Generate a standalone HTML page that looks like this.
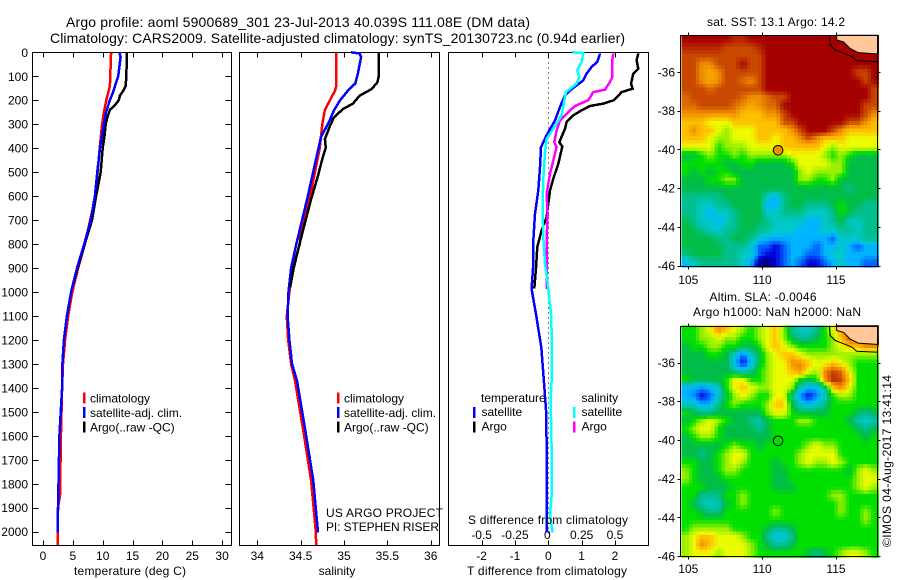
<!DOCTYPE html>
<html lang="en">
<head>
<meta charset="utf-8">
<title>Argo profile 5900689_301</title>
<style>
html,body{margin:0;padding:0;background:#fff;width:900px;height:580px;overflow:hidden}
svg{display:block}
text{font-family:"Liberation Sans",sans-serif;font-size:12px;fill:#000}
.t14{font-size:14px}
</style>
</head>
<body>
<svg id="chart" xmlns="http://www.w3.org/2000/svg" width="900" height="580" viewBox="0 0 900 580">
<rect x="0" y="0" width="900" height="580" fill="#fff"/>
<text class="t14" x="66" y="27" textLength="464" lengthAdjust="spacing">Argo profile: aoml 5900689_301 23-Jul-2013 40.039S 111.08E (DM data)</text>
<text class="t14" x="50" y="43" textLength="575" lengthAdjust="spacing">Climatology: CARS2009. Satellite-adjusted climatology: synTS_20130723.nc (0.94d earlier)</text>
<g id="panels"></g>
<g id="maps"></g>
<text x="130" y="575" text-anchor="middle" textLength="112" lengthAdjust="spacing">temperature (deg C)</text>
<text x="337" y="575" text-anchor="middle">salinity</text>
<text x="547" y="575" text-anchor="middle" textLength="160" lengthAdjust="spacing">T difference from climatology</text>
<text x="548" y="524" text-anchor="middle" textLength="160" lengthAdjust="spacing">S difference from climatology</text>
<text x="326" y="517" textLength="117" lengthAdjust="spacing">US ARGO PROJECT</text>
<text x="326" y="531" textLength="113" lengthAdjust="spacing">PI: STEPHEN RISER</text>
<text x="776" y="26" text-anchor="middle" textLength="138" lengthAdjust="spacing">sat. SST: 13.1 Argo: 14.2</text>
<text x="763" y="301" text-anchor="middle" textLength="107" lengthAdjust="spacing">Altim. SLA: -0.0046</text>
<text x="777" y="316" text-anchor="middle" textLength="168" lengthAdjust="spacing">Argo h1000: NaN h2000: NaN</text>
<text transform="translate(891,547) rotate(-90)" textLength="172" lengthAdjust="spacing">©IMOS 04-Aug-2017 13:41:14</text>
</svg>
<script>
// ---------- profile data ----------
const depthTicks = [0,100,200,300,400,500,600,700,800,900,1000,1100,1200,1300,1400,1500,1600,1700,1800,1900,2000];
const tempTicks = [0,5,10,15,20,25,30];
const salTicks = [34,34.5,35,35.5,36];
const tdiffTicks = [-2,-1,0,1,2];
const sdiffTicks = [-0.5,-0.25,0,0.25,0.5];
const sdiffTickLabels = ['-0.5','-0.25','0','0.25','0.5'];

const tempClimDepth = [0,140,200,250,300,400,600,800,900,1000,1100,1200,1300,1400,1600,1850,1900,2055];
const tempClimValue = [11.4,11.2,10.6,10.2,9.9,9.5,8.8,7.0,5.9,4.9,4.2,3.7,3.35,3.2,3.0,2.85,2.5,2.45];
const tempSatDepth = [0,20,100,130,170,200,250,300,400,500,600,700,800,900,1000,1100,1200,1300,1400,1600,1800,2003];
const tempSatValue = [12.8,13,12.6,12.2,11.7,11.2,10.55,10.2,9.55,9.1,8.7,8.0,6.9,5.7,4.7,4.0,3.5,3.25,3.2,2.75,2.6,2.45];
const tempArgoDepth = [0,100,140,160,180,200,220,240,270,300,350,400,500,600,700,800,900,980];
const tempArgoValue = [14.07,13.95,13.85,13.45,12.9,12.7,12.06,11.2,10.8,10.5,10.3,10,9.66,8.9,8.2,7.0,5.8,4.9];

const salClimDepth = [0,140,160,200,240,300,400,500,600,730,800,900,1000,1100,1200,1300,1370,1578,1787,1980,2055];
const salClimValue = [34.911,34.911,34.896,34.838,34.78,34.75,34.72,34.665,34.61,34.51,34.49,34.41,34.37,34.34,34.355,34.39,34.435,34.53,34.62,34.67,34.68];
const salSatDepth = [0,5,20,88,130,158,200,242,284,354,409,506,604,771,800,900,1000,1100,1200,1300,1370,1578,1787,2003];
const salSatValue = [35.08,35.18,35.197,35.16,35.13,35.05,34.955,34.885,34.835,34.735,34.7,34.64,34.58,34.47,34.45,34.39,34.36,34.35,34.37,34.4,34.458,34.554,34.646,34.7];
const salArgoDepth = [0,100,125,153,181,215,236,271,306,362,397,445,515,613,780,900,980];
const salArgoValue = [35.4,35.4,35.385,35.32,35.18,35.1,34.99,34.885,34.84,34.78,34.79,34.75,34.7,34.62,34.5,34.42,34.38];

const tdiffSatDepth = [5,40,61,89,117,138,159,180,228,284,346,396,479,576,674,785,882,987,1022,1092,1161,1231,1301,1412,1509,1648,1787,1926,2003];
const tdiffSatValue = [1.55,1.47,1.3,1.15,1.05,.85,.65,.5,.35,.2,-.05,-.22,-.25,-.3,-.4,-.45,-.45,-.5,-.46,-.37,-.29,-.21,-.17,-.11,-.06,-.05,-.05,-.05,-.05];
const tdiffArgoDepth = [5,33,68,89,131,152,166,200,214,224,242,263,291,319,375,393,465,527,576,688,743,812,900,985];
const tdiffArgoValue = [2.7,2.65,2.7,2.55,2.48,2.53,2.2,1.97,1.65,1.25,1.0,.75,.55,.5,.33,.42,.3,.15,.05,-.05,-.2,-.33,-.37,-.42];
const sdiffSatDepth = [0,3,40,75,103,131,166,224,263,319,361,417,528,646,771,882,951,1022,1092,1161,1370,1450,1648,1850,1926,2003];
const sdiffSatValue = [.18,.2625,.25,.2175,.2325,.2125,.1325,.1125,.1,.0375,-.0125,-.025,-.0375,-.0425,-.0375,-.025,-.0075,.0075,.02,.025,.025,.0175,.025,.025,.0125,.0325];
const sdiffArgoDepth = [5,33,103,124,156,166,200,224,249,284,326,375,396,451,507,590,674,785,987];
const sdiffArgoValue = [.4875,.48,.48,.4625,.425,.3375,.3,.2,.15,.0875,.0625,.045,.0625,.0375,.0125,-.0125,-.005,-.0125,-.0125];

// ---------- map data (colour level per grid cell, row 0 = north) ----------
const lonTicks = [105,110,115];
const latTicks = [-36,-38,-40,-42,-44,-46];
const sstLevels = [
[13,13,13,13,13,13,12.5,12.5,13,13,13,13,13,13,13,13,13,13,13,13,13,13,13,13],
[12.5,12.5,12.5,12.5,12.5,12,12,12,12,12.5,13,13,13,13,13,13,13,13,13,13,13,13,13,13],
[12,12,12,12,12,12,12,12,12,12,13,13,13,13,13,13,13,13,13,13,13,13,13,13],
[12,12,11,11,12,12,12,13,12,12,13,13,13,13,13,13,13,13,13,13,13,13,13,13],
[12,12,11,10.5,11,12,12,12,12,12,13,13,13,13,13,13,13,13,13,13,13,12,12,13],
[12,12,11,10.5,11,12,12,11.5,11,12,13,13,13,13,13,13,13,13,13,13,13,13,12,13],
[12,12,12,11.5,12,12,12,12,12,12,13,13,13,13,13,13,13,13,13,13,13,13,13,12],
[11.5,12,12,12,12,12,12,11.5,11,11,11.5,12,12,13,13,13,13,13,13,13,13,13,13,12],
[11.5,11.5,12,12,12,12,11.5,11,10.5,11,11.5,11.5,13,13,13,13,13,13,13,13,13,13,12,12],
[11,11,11,11,11,11,11,10,10,10,11,11,12,13,13,13,13,13,13,13,13,13,12,11],
[10,10,10,9,9,9,10,10,10,10,10,10,12,12,13,13,13,13,13,13,12,12,11,10],
[10,11,10,10,9,8,9,9,9,10,10,10,10,11,12,13,13,13,12,11,10,10,10,10],
[10,10,10,9,8,8,9,9,9,10,10,9,10,10,11,12,11,10,10,10,9,9,9,9],
[9,9,9,9,7,8,8,8,9,9,9,9,10,10,10,10,10,9,8,9,9,9,9,9],
[6,6,7,8,7,7,8,7,8,8,8,8,8,9,9,9,9,8,7,8,7,6,6,6],
[7,7,7,7,7,6,6,7,7,6,6,6,6,7,9,9,9,9,8,8,6,6,6,6],
[7,6,7,6,7,7,6,6,6,6,6,6,6,6,8,9,8,8,8,8,6,6,6,6],
[6,6,6,7,7,8,8,6,6,6,6,6,6,6,8,8,7,7,8,6,6,6,6,6],
[6,6,6,6,6,6,6,6,6,6,6,6,6,6,6,6,6,6,6,6,5,6,6,6],
[5,5,5,5,5,6,6,6,6,6,4,3,5,6,6,6,6,6,6,6,6,6,6,6],
[5,5,4,4,5,5,6,6,6,6,3,3,5,6,6,5,5,5,6,7,6,6,5,5],
[5,5,4,3,4,4,5,6,6,6,4,4,5,5,5,4,4,4,5,7,6,5,5,5],
[6,5,4,4,3,4,5,6,6,6,5,4,4,4,4,3,3,4,5,6,4,4,5,5],
[6,6,5,4,4,5,5,6,6,5,5,4,4,4,3,3,3,4,4,5,5,4,5,5],
[6,6,6,6,5,5,6,6,5,4,3,3,3,3,3,3,3,3,2,4,4,4,5,5],
[6,6,6,6,6,5,5,5,4,2,2,1,2,3,3,3,2,3,3,4,3,2,3,3],
[5,6,6,6,6,5,5,4,4,2,1,1,2,3,3,2,2,3,4,4,3,3,3,3],
[3,4,5,5,5,5,5,4,3,0,0,1,2,3,2,1,1,2,3,4,3,3,2,2]
];
const slaLevels = [
[7,7,8,9,11,10,9,8,7,8,9,10,8,5,4,4,5,7,9,11,11,11,11,11],
[7,7,8,8,9,8,8,7,7,8,9,10,8,6,5,5,6,7,8,10,12,12,12,12],
[6,7,7,8,8,7,7,6,6,7,9,10,9,8,7,7,7,7,8,9,10,10,11,11],
[6,6,6,7,7,6,4,2,4,6,8,9,10,10,9,8,8,8,8,8,8,8,8,8],
[6,6,6,6,6,6,3,1,3,6,8,9,9,11,11,10,9,9,10,9,8,7,7,7],
[6,6,6,6,6,6,5,4,5,7,8,9,9,10,11,9,8,11,12,11.5,9,7,7,7],
[7,6,6,6,6,7,9,9,7,7,8,9,9,9,7,6,7,11,12.5,12,10,7,7,7],
[3,3,2.5,3,4,7,9,10,9,8,8,9,9,8,4,3,3,5,10,11,9,7,7,7],
[3,2.5,1,2,4,6,8,9,8,7,7,9,9,5,2.5,1,2.5,4,7,8,8,7,7,7],
[4,4,3,3,5,7,8,7,7,7,8,10,10,6,4,3,4,5,7,7,7,7,7,7],
[7,6,5,5,6,6,6,6,6,6,8,9,9,7,6,6,6,6,7,7,7,6,5,6],
[6,7,8,9,8,7,6,6,5,4.5,6,7,7,7,8,8,7,7,7,7,6,4.5,4,4.5],
[7,8,9,9,7,6,6,6,6,5,6,7,7,7,7,7,7,7,7,7,7,6,5,6],
[6,7,8,8,7,6,6,6,6,6,6,7,7,7,7,7,7,7,7,7,7,7,6,7],
[6,6,6,6,6,7,8,7,7,6,7,7,7,7,7,8,9,8,8,7,7,7,7,7],
[6,6,5,6,7,8,9,9,7,7,7,7,7,7,8,9,9,9,9,7,7,7,7,7],
[7,7,6,6,7,8,9,8,7,7,7,6,7,7,8,9,8,8,9,8,7,7,7,7],
[8,7,6,6,7,8,8,7,7,7,7,6,6,7,7,7,7,7,7,7,6,8,9,8],
[8,7,6,6,6,7,7,7,7,7,7,6,6,7,7,7,7,7,7,7,7,8,9,9],
[7,7,7,6,6,6,7,7,7,7,7,6,6,6,7,7,7,7,7,7,7,8,9,8],
[7,7,5,5,5,7,7,8,7,7,7,7,7,7,7,7,7,7,8,8,7,7,7,7],
[7,6,4.5,4,4.5,6,7,8,7,7,7,7,7,7,7,7,7,7,7,8,7,7,7,7],
[7,7,6,5,5,7,7,7,7,7,7,8,7,7,7,7,7,7,7,8,7,7,8,7],
[7,7,7,7,7,7,7,7,7,7,7,7,7,7,7,7,7,7,7,7,7,7,8,7],
[7,8,8,8,8,8,7,7,7,7,6,5,5,6,7,7,7,7,7,7,7,7,7,7],
[8,9,10,10,9,9,9,8,7,7,5,3.5,3.5,5,7,7,7,7,7,7,7,7,7,7],
[8,9,11,10,9,9,9,9,8,7,6,5,5,6,7,7,7,7,7,7,7,7,7,7],
[8,9,9,9,8,9,9,9,8,7,7,7,7,7,7,6,5,6,7,8,9,9,8,7]
];
const landLon = [115.05,115.05,115.5,115.95,116.5,117.86,117.86];
const landLat = [-34.1,-34.35,-34.44,-34.78,-35.0,-35.07,-34.1];
const coastOuterLon = [114.55,114.6,114.93,115.5,116.07,116.4,117.86];
const coastOuterLat = [-34.1,-34.6,-34.86,-35.03,-35.2,-35.42,-35.47];
const argoLon = 111.08;
const argoLat = -40.04;

// ---------- helpers ----------
const NS = 'http://www.w3.org/2000/svg';
const panelsG = document.getElementById('panels');
const mapsG = document.getElementById('maps');
function mk(parent, tag, props){
  const el = document.createElementNS(NS, tag);
  for (const k in props) el.setAttribute(k, props[k]);
  parent.appendChild(el);
  return el;
}
function tickLine(parent, x1, y1, x2, y2){
  return mk(parent, 'line', {x1:x1, y1:y1, x2:x2, y2:y2, stroke:'#000', 'stroke-width':1, 'shape-rendering':'crispEdges'});
}
function label(parent, x, y, str, anchor){
  const t = mk(parent, 'text', {x:x, y:y, 'text-anchor':anchor || 'start'});
  t.textContent = str;
  return t;
}
function box(parent, l, t, r, b){
  return mk(parent, 'rect', {x:l, y:t, width:r-l, height:b-t, fill:'none', stroke:'#000', 'stroke-width':1, 'shape-rendering':'crispEdges'});
}
const yTop = 52.5, yBottom = 545.5;
function yDepth(d){ return 52.3 + 0.2397 * d; }
function curve(parent, xs, depths, xf, color, width){
  const pts = depths.map(function(d, i){ return xf(xs[i]).toFixed(1) + ',' + yDepth(d).toFixed(1); }).join(' ');
  return mk(parent, 'polyline', {points:pts, fill:'none', stroke:color, 'stroke-width':width, 'stroke-linejoin':'miter', 'shape-rendering':'crispEdges'});
}

// ---------- axis scales ----------
function xTemp(v){ return 43 + 5.97 * v; }
function xSal(v){ return 257.3 + 86.7 * (v - 34); }
function xTdiff(v){ return 548.3 + 33.33 * v; }
function xSdiff(v){ return 548.3 + 133.3 * v; }

// ---------- temperature panel ----------
const tempPanel = mk(panelsG, 'g', {});


const tempBox = box(tempPanel, 32.5, yTop, 231.5, yBottom);


depthTicks.forEach(function(d){
  const l = tickLine(tempPanel, 32.5, Math.round(yDepth(d))+.5, 38.5, Math.round(yDepth(d))+.5);
  
  
  const r = tickLine(tempPanel, 225.5, Math.round(yDepth(d))+.5, 231.5, Math.round(yDepth(d))+.5);
  
  
  const t = label(tempPanel, 28, yDepth(d) + 4.5, String(d), 'end');
  
  
});
tempTicks.forEach(function(v){
  const a = tickLine(tempPanel, Math.round(xTemp(v))+.5, yTop, Math.round(xTemp(v))+.5, yTop+5);
  
  
  const b = tickLine(tempPanel, Math.round(xTemp(v))+.5, yBottom-5, Math.round(xTemp(v))+.5, yBottom);
  
  
  const t = label(tempPanel, xTemp(v), 560, String(v), 'middle');
  
  
});
const c1 = curve(tempPanel, tempClimValue, tempClimDepth, xTemp, '#ff0000', 2.5);


const c2 = curve(tempPanel, tempArgoValue, tempArgoDepth, xTemp, '#000000', 2.5);


const c3 = curve(tempPanel, tempSatValue, tempSatDepth, xTemp, '#0000ff', 2.5);



// ---------- salinity panel ----------
const salPanel = mk(panelsG, 'g', {});


const salBox = box(salPanel, 239.5, yTop, 439.5, yBottom);


salTicks.forEach(function(v){
  const a = tickLine(salPanel, Math.round(xSal(v))+.5, yTop, Math.round(xSal(v))+.5, yTop+5);
  
  
  const b = tickLine(salPanel, Math.round(xSal(v))+.5, yBottom-5, Math.round(xSal(v))+.5, yBottom);
  
  
  const t = label(salPanel, xSal(v), 560, String(v), 'middle');
  
  
});
const s1 = curve(salPanel, salClimValue, salClimDepth, xSal, '#ff0000', 2.5);


const s2 = curve(salPanel, salSatValue, salSatDepth, xSal, '#0000ff', 2.5);


const s3 = curve(salPanel, salArgoValue, salArgoDepth, xSal, '#000000', 2.5);



// ---------- difference panel ----------
const diffPanel = mk(panelsG, 'g', {});


const diffBox = box(diffPanel, 448.5, yTop, 648.5, yBottom);


const zeroLine = mk(diffPanel, 'line', {x1:548.5, y1:yTop, x2:548.5, y2:yBottom, stroke:'#000', 'stroke-width':1, 'stroke-dasharray':'1 4', 'shape-rendering':'crispEdges'});


tdiffTicks.forEach(function(v){
  const a = tickLine(diffPanel, Math.round(xTdiff(v))+.5, yTop, Math.round(xTdiff(v))+.5, yTop+5);
  
  
  const b = tickLine(diffPanel, Math.round(xTdiff(v))+.5, yBottom-5, Math.round(xTdiff(v))+.5, yBottom);
  
  
  const t = label(diffPanel, xTdiff(v), 560, String(v), 'middle');
  
  
});
sdiffTicks.forEach(function(v, i){
  const t = label(diffPanel, xSdiff(v) - (v === 0 ? 1 : 0), 539, sdiffTickLabels[i], 'middle');
  
  
});
const d1 = curve(diffPanel, tdiffArgoValue, tdiffArgoDepth, xTdiff, '#000000', 2.5);


const d2 = curve(diffPanel, sdiffArgoValue, sdiffArgoDepth, xSdiff, '#ff00ff', 2.5);


const d3 = curve(diffPanel, tdiffSatValue, tdiffSatDepth, xTdiff, '#0000ff', 2.5);


const d4 = curve(diffPanel, sdiffSatValue, sdiffSatDepth, xSdiff, '#00ffff', 2.5);



// ---------- legends ----------
function legendBar(parent, x, y, color){
  return mk(parent, 'rect', {x:x, y:y, width:2.5, height:11, fill:color, 'shape-rendering':'crispEdges'});
}
const legendRowsY = [392.5, 407, 421.5];
const clim = ['climatology','satellite-adj. clim.','Argo(..raw -QC)'];
const climColors = ['#ff0000','#0000ff','#000000'];
[[83,90],[337,344]].forEach(function(pos){
  const lg = mk(panelsG, 'g', {});
  
  
  clim.forEach(function(s, i){
    const b = legendBar(lg, pos[0], legendRowsY[i], climColors[i]);
    
    
    const t = label(lg, pos[1], legendRowsY[i] + 10, s);
    
    
  });
});
const diffLegend = mk(panelsG, 'g', {});


const lh1 = label(diffLegend, 481, 402, 'temperature');


const lh2 = label(diffLegend, 581.5, 402, 'salinity');


[[473,481.5,'#0000ff','#000000'],[573,581.5,'#00ffff','#ff00ff']].forEach(function(c){
  const b1 = legendBar(diffLegend, c[0], 407, c[2]);
  
  
  const b2 = legendBar(diffLegend, c[0], 421.5, c[3]);
  
  
  const t1 = label(diffLegend, c[1], 416, 'satellite');
  
  
  const t2 = label(diffLegend, c[1], 430.5, 'Argo');
  
  
});

// ---------- maps ----------
const colorStops = ['#000080','#0000d8','#0060ff','#00b4ff','#00c8c8','#00c090','#00bc48','#00e000','#98f000','#ecfc00','#ffc000','#f09000','#c84800','#a50000'];
function rgb(h){ return [parseInt(h.substr(1,2),16),parseInt(h.substr(3,2),16),parseInt(h.substr(5,2),16)]; }
function levelColor(v){
  const i = Math.max(0, Math.min(colorStops.length - 2, Math.floor(v)));
  const f = Math.max(0, Math.min(1, v - i));
  const a = rgb(colorStops[i]), b = rgb(colorStops[i+1]);
  return 'rgb(' + [0,1,2].map(function(k){ return Math.round(a[k] + (b[k]-a[k]) * f); }).join(',') + ')';
}
const lonMin = 104.54, lonMax = 117.86, latMax = -34.1, latMin = -46.07;
function drawMap(name, levels, boxTop, boxBottom, yLat36, labelY, markerFill){
  const g = mk(mapsG, 'g', {});
  
  
  function xLon(lon){ return 688.3 + 14.77 * (lon - 105); }
  function yLat(lat){ return yLat36 + 19.37 * (-36 - lat); }
  const rows = levels.length, cols = levels[0].length;
  const subCols = 54, subRows = 62;
  const field = mk(g, 'g', {'shape-rendering':'crispEdges'});
  
  
  for (let r = 0; r < subRows; r++){
    for (let c = 0; c < subCols; c++){
      const u = Math.max(0, Math.min(cols - 1.001, (c + .5) / subCols * cols - .5));
      const w = Math.max(0, Math.min(rows - 1.001, (r + .5) / subRows * rows - .5));
      const i = Math.floor(u), j = Math.floor(w), fu = u - i, fw = w - j;
      const v = levels[j][i]*(1-fu)*(1-fw) + levels[j][i+1]*fu*(1-fw) + levels[j+1][i]*(1-fu)*fw + levels[j+1][i+1]*fu*fw;
      const lon0 = lonMin + (lonMax-lonMin) * c / subCols, lon1 = lonMin + (lonMax-lonMin) * (c+1) / subCols;
      const lat0 = latMax - (latMax-latMin) * r / subRows, lat1 = latMax - (latMax-latMin) * (r+1) / subRows;
      const cell = mk(field, 'rect', {x:xLon(lon0).toFixed(2), y:yLat(lat0).toFixed(2), width:(xLon(lon1)-xLon(lon0)+.6).toFixed(2), height:(yLat(lat1)-yLat(lat0)+.6).toFixed(2), fill:levelColor(v)});
      
      
    }
  }
  const land = mk(g, 'polygon', {points:landLon.map(function(l,i){ return xLon(l).toFixed(1)+','+yLat(landLat[i]).toFixed(1); }).join(' '), fill:'#ffc896', stroke:'#000', 'stroke-width':1});
  
  
  const coast = mk(g, 'polyline', {points:coastOuterLon.map(function(l,i){ return xLon(l).toFixed(1)+','+yLat(coastOuterLat[i]).toFixed(1); }).join(' '), fill:'none', stroke:'#000', 'stroke-width':1});
  
  
  const bx = box(g, 680.5, boxTop, 877.5, boxBottom);
  
  
  lonTicks.forEach(function(lon){
    const x = Math.round(xLon(lon)) + .5;
    const a = tickLine(g, x, boxTop - 3, x, boxTop);
    
    
    const b = tickLine(g, x, boxBottom, x, boxBottom + 3);
    
    
    const t = label(g, xLon(lon), labelY, String(lon), 'middle');
    
    
  });
  latTicks.forEach(function(lat){
    const y = Math.round(yLat(lat)) + .5;
    const a = tickLine(g, 677.5, y, 680.5, y);
    
    
    const b = tickLine(g, 877.5, y, 880.5, y);
    
    
    const t = label(g, 675, yLat(lat) + 4.5, String(lat), 'end');
    
    
  });
  const m = mk(g, 'circle', {cx:xLon(argoLon).toFixed(1), cy:yLat(argoLat).toFixed(1), r:4.8, fill:markerFill, stroke:'#000', 'stroke-width':1});
  
  
}
drawMap('sst-map', sstLevels, 35.5, 266.5, 72, 284, '#f09000');
drawMap('sla-map', slaLevels, 326.5, 556.5, 362.5, 573, 'none');
</script>
</body>
</html>
